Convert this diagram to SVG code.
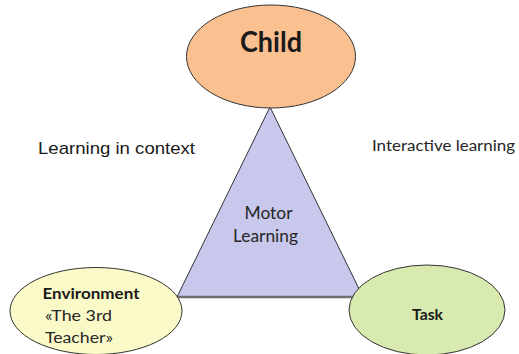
<svg xmlns="http://www.w3.org/2000/svg" width="519" height="354" viewBox="0 0 519 354">
<style>
.node{stroke:#333;stroke-width:1}
.b{font-family:Lato,"Open Sans","Liberation Sans",sans-serif;font-weight:bold;fill:#1a1a1a}
.r{font-family:Lato,"Open Sans","Liberation Sans",sans-serif;fill:#262626}
.a{font-family:"Liberation Sans",Arial,sans-serif;fill:#1a1a1a}
</style>
<rect width="519" height="354" fill="#fff"/>
<g id="motor">
<polygon points="270,107 177,297 363,297" fill="#c8c8ec" stroke="#333" stroke-width="1"/>
<line x1="178" y1="297" x2="362" y2="297" stroke="#6e6e6e" stroke-width="2.5"/>
<text class="r" x="268.5" y="219" font-size="16.5" text-anchor="middle" textLength="48" lengthAdjust="spacingAndGlyphs">Motor</text>
<text class="r" x="265.5" y="242" font-size="16.5" text-anchor="middle" textLength="65" lengthAdjust="spacingAndGlyphs">Learning</text>
</g>
<g id="child">
<ellipse class="node" cx="271" cy="56.5" rx="84.5" ry="51.5" fill="#fac090"/>
<text class="b" x="271" y="52" font-size="28" text-anchor="middle" textLength="62" lengthAdjust="spacingAndGlyphs">Child</text>
</g>
<g id="environment">
<ellipse class="node" cx="96" cy="311" rx="86" ry="43.5" fill="#fafac8"/>
<text class="b" x="42.5" y="299" font-size="15.5" textLength="97" lengthAdjust="spacingAndGlyphs">Environment</text>
<text class="r" x="45" y="321" font-size="15.5" textLength="67" lengthAdjust="spacingAndGlyphs">«The 3rd</text>
<text class="r" x="45" y="343" font-size="15.5" textLength="68" lengthAdjust="spacingAndGlyphs">Teacher»</text>
</g>
<g id="task">
<ellipse class="node" cx="427" cy="310" rx="78" ry="45" fill="#d8eab0"/>
<text class="b" x="427.5" y="320" font-size="15.5" text-anchor="middle" textLength="31" lengthAdjust="spacingAndGlyphs">Task</text>
</g>
<g id="labels">
<text class="a" x="38" y="154" font-size="17" textLength="157" lengthAdjust="spacingAndGlyphs">Learning in context</text>
<text class="r" x="372" y="151" font-size="15.5" textLength="143" lengthAdjust="spacingAndGlyphs">Interactive learning</text>
</g>
</svg>
